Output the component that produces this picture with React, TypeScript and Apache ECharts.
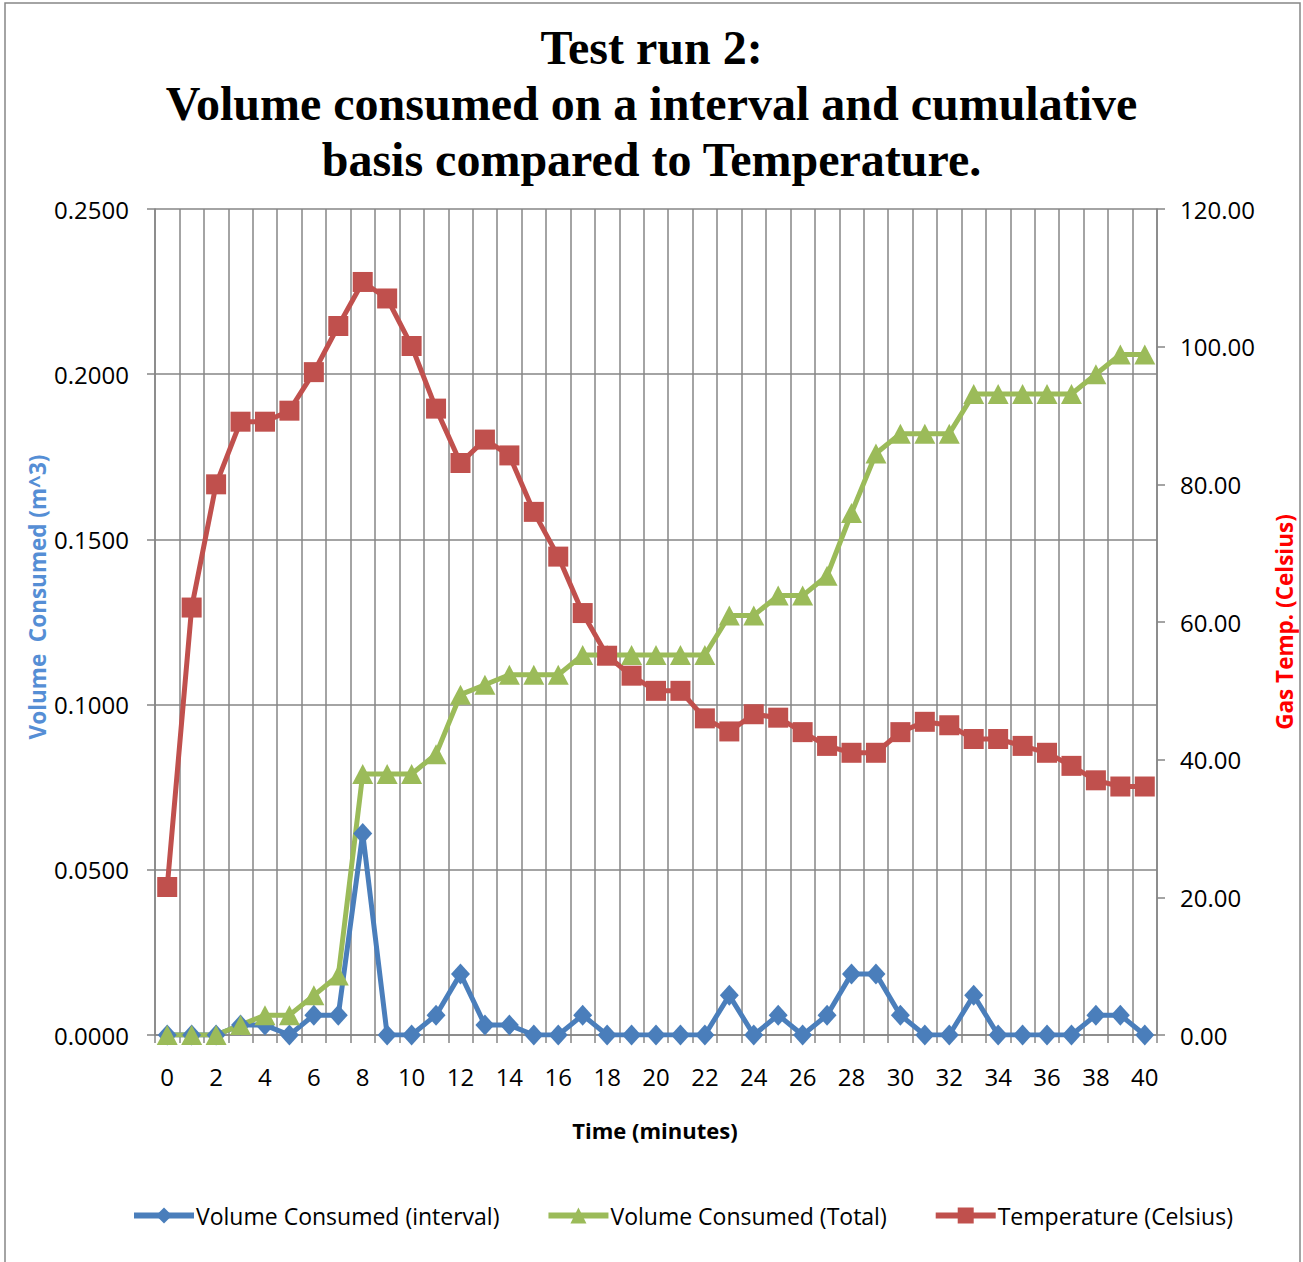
import React, { useEffect, useRef } from "react";
import * as echarts from "echarts";

// Time in minutes (category axis)
const minutes = [
  "0", "1", "2", "3", "4", "5", "6", "7", "8", "9", "10",
  "11", "12", "13", "14", "15", "16", "17", "18", "19", "20",
  "21", "22", "23", "24", "25", "26", "27", "28", "29", "30",
  "31", "32", "33", "34", "35", "36", "37", "38", "39", "40",
];

// Volume consumed per one-minute interval (m^3)
const volumeInterval = [
  0, 0, 0, 0.003, 0.003, 0, 0.006, 0.006, 0.061, 0, 0,
  0.006, 0.0185, 0.003, 0.003, 0, 0, 0.006, 0, 0, 0,
  0, 0, 0.012, 0, 0.006, 0, 0.006, 0.0185, 0.0185, 0.006,
  0, 0, 0.012, 0, 0, 0, 0, 0.006, 0.006, 0,
];

// Cumulative volume consumed (m^3)
const volumeTotal = [
  0, 0, 0, 0.003, 0.006, 0.006, 0.012, 0.018, 0.079, 0.079, 0.079,
  0.085, 0.103, 0.106, 0.109, 0.109, 0.109, 0.115, 0.115, 0.115, 0.115,
  0.115, 0.115, 0.127, 0.127, 0.133, 0.133, 0.139, 0.158, 0.176, 0.182,
  0.182, 0.182, 0.194, 0.194, 0.194, 0.194, 0.194, 0.2, 0.206, 0.206,
];

// Gas temperature (Celsius)
const temperature = [
  21.5, 62.1, 80.0, 89.1, 89.1, 90.7, 96.3, 103.0, 109.4, 107.0, 100.1,
  91.0, 83.1, 86.5, 84.2, 76.0, 69.5, 61.3, 55.1, 52.2, 50.0,
  50.0, 46.0, 44.1, 46.6, 46.1, 44.0, 42.0, 41.0, 41.0, 44.0,
  45.5, 45.0, 43.0, 43.0, 42.0, 41.0, 39.1, 37.0, 36.1, 36.1,
];

const SANS = "'Open Sans', 'Noto Sans', sans-serif";
const GRID_GREY = "#868686";
const BLUE = "#4A7EBB";
const GREEN = "#9BBB59";
const RED = "#C0504D";
const LINE_W = 5;

export default function App() {
  const ref = useRef<HTMLDivElement>(null);

  useEffect(() => {
    if (!ref.current) return;
    const chart = echarts.init(ref.current, undefined, { renderer: "svg" });

    chart.setOption({
      animation: false,
      backgroundColor: "#ffffff",
      title: {
        text:
          "Test run 2:\nVolume consumed on a interval and cumulative\nbasis compared to Temperature.",
        left: "center",
        top: 14,
        textStyle: {
          fontFamily: "'Liberation Serif', 'Times New Roman', serif",
          fontWeight: "bold",
          fontSize: 48,
          lineHeight: 56,
          color: "#000000",
        },
      },
      legend: {
        left: 126,
        top: 1199,
        itemWidth: 60,
        itemHeight: 20,
        itemGap: 46,
        lineStyle: { width: 6 },
        textStyle: { fontFamily: SANS, fontSize: 23, color: "#000000", padding: [0, 0, 0, -3] },
        data: [
          "Volume Consumed (interval)",
          "Volume Consumed (Total)",
          "Temperature (Celsius)",
        ],
      },
      grid: { left: 155, right: 146, top: 209, bottom: 227 },
      xAxis: {
        type: "category",
        data: minutes,
        boundaryGap: true,
        axisLine: { show: true, lineStyle: { color: GRID_GREY, width: 1.5 } },
        axisTick: {
          show: true,
          interval: 0,
          length: 8,
          lineStyle: { color: GRID_GREY, width: 1.5 },
        },
        splitLine: {
          show: true,
          interval: 0,
          lineStyle: { color: GRID_GREY, width: 1.5 },
        },
        axisLabel: {
          interval: 1,
          margin: 29,
          fontFamily: SANS,
          fontSize: 24,
          color: "#000000",
        },
      },
      yAxis: [
        {
          type: "value",
          min: 0,
          max: 0.25,
          interval: 0.05,
          position: "left",
          axisLine: { show: true, lineStyle: { color: GRID_GREY, width: 1.5 } },
          axisTick: { show: true, length: 8, lineStyle: { color: GRID_GREY, width: 1.5 } },
          splitLine: { show: true, lineStyle: { color: GRID_GREY, width: 1.5 } },
          axisLabel: {
            margin: 26,
            fontFamily: SANS,
            fontSize: 24,
            color: "#000000",
            formatter: (v: number) => v.toFixed(4),
          },
        },
        {
          type: "value",
          min: 0,
          max: 120,
          interval: 20,
          position: "right",
          axisLine: { show: true, lineStyle: { color: GRID_GREY, width: 1.5 } },
          axisTick: { show: true, length: 8, lineStyle: { color: GRID_GREY, width: 1.5 } },
          splitLine: { show: false },
          axisLabel: {
            margin: 23,
            fontFamily: SANS,
            fontSize: 24,
            color: "#000000",
            formatter: (v: number) => v.toFixed(2),
          },
        },
      ],
      series: [
        {
          name: "Volume Consumed (interval)",
          type: "line",
          yAxisIndex: 0,
          data: volumeInterval,
          showAllSymbol: true,
          symbol: "diamond",
          symbolSize: [19, 21],
          lineStyle: { color: BLUE, width: LINE_W },
          itemStyle: { color: BLUE },
        },
        {
          name: "Volume Consumed (Total)",
          type: "line",
          yAxisIndex: 0,
          data: volumeTotal,
          showAllSymbol: true,
          symbol: "triangle",
          symbolSize: [21, 20],
          lineStyle: { color: GREEN, width: LINE_W },
          itemStyle: { color: GREEN },
        },
        {
          name: "Temperature (Celsius)",
          type: "line",
          yAxisIndex: 1,
          data: temperature,
          showAllSymbol: true,
          symbol: "rect",
          symbolSize: 20,
          lineStyle: { color: RED, width: LINE_W },
          itemStyle: { color: RED },
        },
      ],
      graphic: [
        {
          type: "rect",
          shape: { x: 5, y: 3, width: 1295, height: 1266 },
          style: { fill: "none", stroke: GRID_GREY, lineWidth: 1.5 },
          silent: true,
        },
        {
          type: "text",
          x: 37,
          y: 597,
          rotation: Math.PI / 2,
          style: {
            text: "Volume  Consumed (m^3)",
            fontFamily: SANS,
            fontWeight: "bold",
            fontSize: 22.5,
            fill: "#558ED5",
            align: "center",
            verticalAlign: "middle",
          },
        },
        {
          type: "text",
          x: 1284,
          y: 622,
          rotation: Math.PI / 2,
          style: {
            text: "Gas Temp. (Celsius)",
            fontFamily: SANS,
            fontWeight: "bold",
            fontSize: 22.5,
            fill: "#FF0000",
            align: "center",
            verticalAlign: "middle",
          },
        },
        {
          type: "text",
          x: 655,
          y: 1130,
          style: {
            text: "Time (minutes)",
            fontFamily: SANS,
            fontWeight: "bold",
            fontSize: 22,
            fill: "#000000",
            align: "center",
            verticalAlign: "middle",
          },
        },
      ],
    });

    return () => chart.dispose();
  }, []);

  return (
    <div
      ref={ref}
      style={{ position: "absolute", left: 0, top: 0, width: 1303, height: 1262 }}
    />
  );
}
